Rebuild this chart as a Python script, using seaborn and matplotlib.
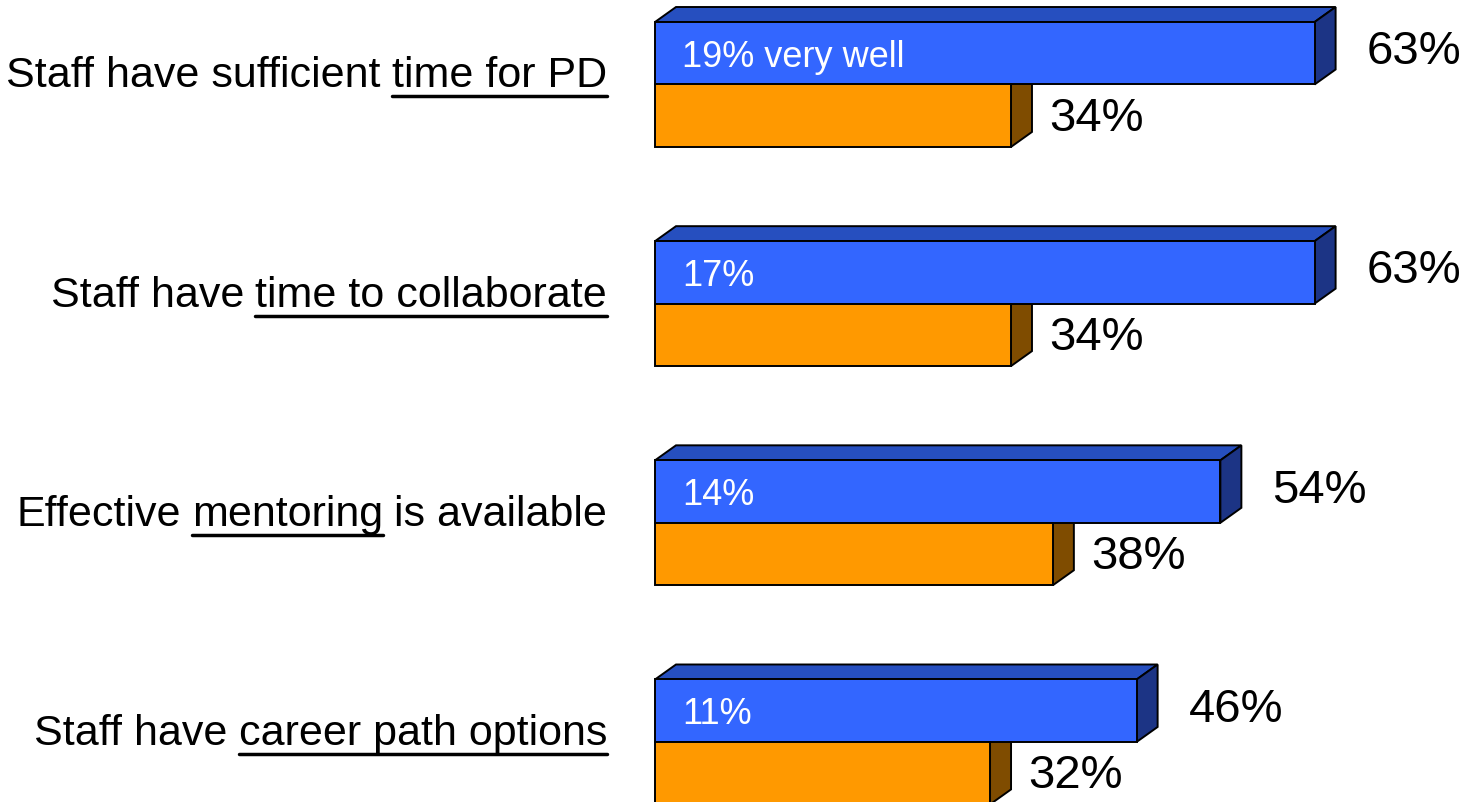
import numpy as np
import pandas as pd
import matplotlib.pyplot as plt
import matplotlib.transforms as mtrans
from matplotlib.patches import Polygon
from matplotlib.lines import Line2D
import seaborn as sns

# data
label_plain = ["Staff have sufficient", "Staff have", "Effective", "Staff have"]
label_under = ["time for PD", "time to collaborate", "mentoring", "career path options"]
label_tail = ["", "", "is available", ""]
categories = [" ".join(s for s in (a, b, c) if s) for a, b, c in zip(label_plain, label_under, label_tail)]
series = ["Well / very well", "Other"]
well_pct = [63, 63, 54, 46]
other_pct = [34, 34, 38, 32]
inner_labels = ["19% very well", "17%", "14%", "11%"]

df = pd.DataFrame({
    "item": categories * 2,
    "series": [series[0]] * len(categories) + [series[1]] * len(categories),
    "pct": well_pct + other_pct,
})

blue, blue_top, blue_side = "#3366FF", "#264FBF", "#1C3485"
orange, orange_side = "#FF9900", "#7F4C00"

sns.set_theme(style="white")
plt.rcParams['font.family'] = ['Liberation Sans', 'DejaVu Sans']

W, H = 1465, 803
fig = plt.figure(figsize=(W / 100, H / 100), dpi=100)
ax = fig.add_axes([655 / W, 0, (W - 655) / W, 1])

sns.barplot(data=df, y="item", x="pct", hue="series", orient="h",
            palette=[blue, orange], saturation=1, width=0.57,
            edgecolor="black", linewidth=1.4, legend=False, ax=ax)

px_per_pct = 10.47
ax.set_xlim(0, (W - 655) / px_per_pct)
ax.set_ylim(3.274, -0.39)
ax.axis("off")

# 3d depth in data units
dx = 21 / px_per_pct
dy = 15 / 219.2

faces = {0: [blue_top, blue_side], 1: [None, orange_side]}
for ci, cont in enumerate(ax.containers):
    top_c, side_c = faces[ci]
    for p in cont:
        p.set_zorder(3)
        p.set_clip_on(False)
        x0, y, w, h = p.get_x(), p.get_y(), p.get_width(), p.get_height()
        x1 = x0 + w
        if top_c:
            ax.add_patch(Polygon([(x0, y), (x1, y), (x1 + dx, y - dy), (x0 + dx, y - dy)],
                                 closed=True, fc=top_c, ec="black", lw=1.4, zorder=2,
                                 clip_on=False))
        ax.add_patch(Polygon([(x1, y), (x1 + dx, y - dy), (x1 + dx, y + h - dy), (x1, y + h)],
                             closed=True, fc=side_c, ec="black", lw=1.4, zorder=2,
                             clip_on=False))

# value labels
pt = 0.72
for p, v in zip(ax.containers[0], well_pct):
    ax.annotate(f"{v}%", xy=(p.get_x() + p.get_width(), p.get_y() + p.get_height() / 2),
                xytext=(52 * pt, 2 * pt), textcoords="offset points",
                ha="left", va="center", fontsize=34, color="black")
for p, v in zip(ax.containers[1], other_pct):
    ax.annotate(f"{v}%", xy=(p.get_x() + p.get_width(), p.get_y() + p.get_height() / 2),
                xytext=(38 * pt, -2 * pt), textcoords="offset points",
                ha="left", va="center", fontsize=34, color="black")
for p, t in zip(ax.containers[0], inner_labels):
    ax.annotate(t, xy=(0, p.get_y() + p.get_height() / 2),
                xytext=(27 * pt, -3 * pt), textcoords="offset points",
                ha="left", va="center", fontsize=26, color="white", zorder=5)

# category labels with underlined part
fig.canvas.draw()
r = fig.canvas.get_renderer()
ident = mtrans.IdentityTransform()
gap = 11
for i in range(len(categories)):
    base_y = ax.transData.transform((0, i))[1] - 2
    xr = 607
    for text, ul in [(label_tail[i], False), (label_under[i], True), (label_plain[i], False)]:
        if not text:
            continue
        t = fig.text(xr, base_y, text, transform=ident, ha="right", va="baseline",
                     fontsize=31, color="black")
        bb = t.get_window_extent(r)
        if ul:
            fig.add_artist(Line2D([bb.x0, bb.x1], [base_y - 10, base_y - 10],
                                  transform=ident, color="black", lw=2.5))
        xr = bb.x0 - gap

fig.savefig("out.png", dpi=100)
